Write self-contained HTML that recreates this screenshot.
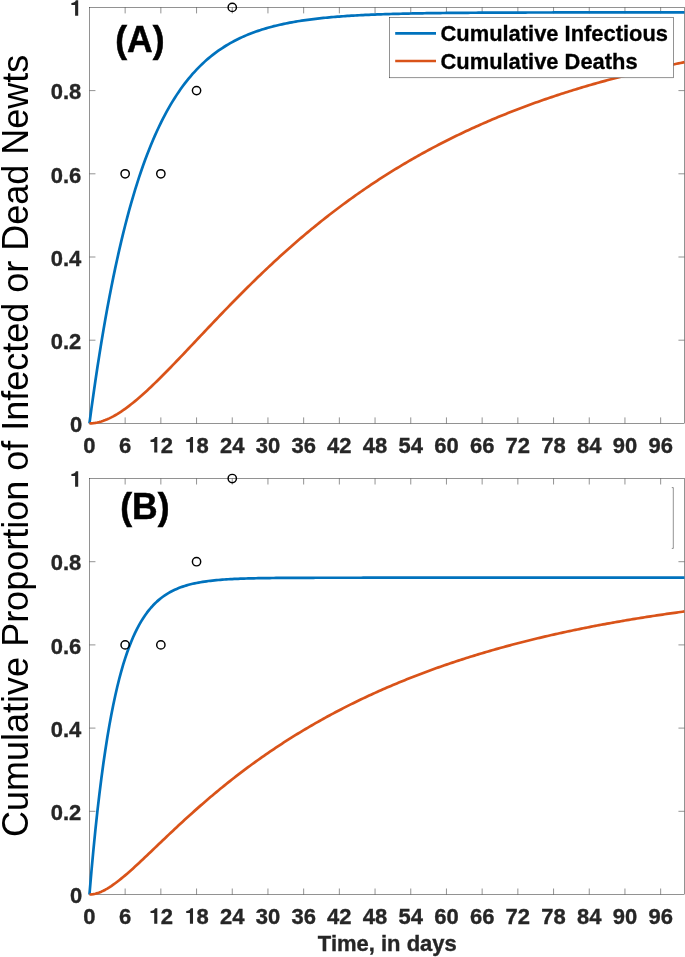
<!DOCTYPE html>
<html><head><meta charset="utf-8"><title>Figure</title>
<style>
html,body{margin:0;padding:0;background:#fff;}
body{width:685px;height:957px;overflow:hidden;}
svg{display:block;will-change:transform;}
text{font-family:"Liberation Sans",sans-serif;}
.tk{font-size:22px;font-weight:bold;fill:#262626;stroke:#262626;stroke-width:0.35px;}
.lg{font-size:21.9px;font-weight:bold;fill:#000;stroke:#000;stroke-width:0.3px;}
.pl{font-size:35.5px;font-weight:bold;fill:#000;stroke:#000;stroke-width:0.5px;}
.yl{font-size:36px;fill:#000;}
.ax{stroke:#262626;stroke-width:0.5;fill:none;}
</style></head><body>
<svg width="685" height="957" viewBox="0 0 685 957">
<rect width="685" height="957" fill="#fff"/>
<g>
<path class="ax" d="M125.15,423.40v-6M125.15,7.40v6M160.85,423.40v-6M160.85,7.40v6M196.55,423.40v-6M196.55,7.40v6M232.25,423.40v-6M232.25,7.40v6M267.95,423.40v-6M267.95,7.40v6M303.65,423.40v-6M303.65,7.40v6M339.35,423.40v-6M339.35,7.40v6M375.05,423.40v-6M375.05,7.40v6M410.75,423.40v-6M410.75,7.40v6M446.45,423.40v-6M446.45,7.40v6M482.15,423.40v-6M482.15,7.40v6M517.85,423.40v-6M517.85,7.40v6M553.55,423.40v-6M553.55,7.40v6M589.25,423.40v-6M589.25,7.40v6M624.95,423.40v-6M624.95,7.40v6M660.65,423.40v-6M660.65,7.40v6M89.45,340.20h6M684.45,340.20h-6M89.45,257.00h6M684.45,257.00h-6M89.45,173.80h6M684.45,173.80h-6M89.45,90.60h6M684.45,90.60h-6"/>
<rect class="ax" x="89.45" y="7.40" width="595.00" height="416.00"/>
<polyline points="89.45,423.40 91.43,408.67 93.42,394.47 95.40,380.77 97.38,367.57 99.37,354.84 101.35,342.56 103.33,330.73 105.32,319.32 107.30,308.32 109.28,297.71 111.27,287.49 113.25,277.63 115.23,268.12 117.22,258.95 119.20,250.12 121.18,241.60 123.17,233.38 125.15,225.46 127.13,217.82 129.12,210.46 131.10,203.36 133.08,196.52 135.07,189.92 137.05,183.55 139.03,177.42 141.02,171.50 143.00,165.80 144.98,160.30 146.97,155.00 148.95,149.89 150.93,144.96 152.92,140.21 154.90,135.63 156.88,131.21 158.87,126.95 160.85,122.85 162.83,118.89 164.82,115.07 166.80,111.39 168.78,107.84 170.77,104.42 172.75,101.12 174.73,97.94 176.72,94.88 178.70,91.92 180.68,89.07 182.67,86.32 184.65,83.67 186.63,81.12 188.62,78.65 190.60,76.28 192.58,73.99 194.57,71.78 196.55,69.65 198.53,67.60 200.52,65.62 202.50,63.71 204.48,61.87 206.47,60.10 208.45,58.39 210.43,56.74 212.42,55.15 214.40,53.62 216.38,52.14 218.37,50.72 220.35,49.34 222.33,48.02 224.32,46.74 226.30,45.51 228.28,44.32 230.27,43.18 232.25,42.08 234.23,41.01 236.22,39.99 238.20,39.00 240.18,38.04 242.17,37.12 244.15,36.24 246.13,35.38 248.12,34.56 250.10,33.76 252.08,33.00 254.07,32.26 256.05,31.55 258.03,30.86 260.02,30.20 262.00,29.56 263.98,28.95 265.97,28.35 267.95,27.78 269.93,27.23 271.92,26.70 273.90,26.18 275.88,25.69 277.87,25.21 279.85,24.75 281.83,24.31 283.82,23.88 285.80,23.47 287.78,23.07 289.77,22.69 291.75,22.32 293.73,21.97 295.72,21.62 297.70,21.29 299.68,20.97 301.67,20.67 303.65,20.37 305.63,20.08 307.62,19.81 309.60,19.54 311.58,19.29 313.57,19.04 315.55,18.80 317.53,18.57 319.52,18.35 321.50,18.14 323.48,17.93 325.47,17.73 327.45,17.54 329.43,17.36 331.42,17.18 333.40,17.01 335.38,16.84 337.37,16.68 339.35,16.53 341.33,16.38 343.32,16.24 345.30,16.10 347.28,15.97 349.27,15.84 351.25,15.71 353.23,15.60 355.22,15.48 357.20,15.37 359.18,15.26 361.17,15.16 363.15,15.06 365.13,14.97 367.12,14.87 369.10,14.78 371.08,14.70 373.07,14.62 375.05,14.54 377.03,14.46 379.02,14.38 381.00,14.31 382.98,14.24 384.97,14.18 386.95,14.11 388.93,14.05 390.92,13.99 392.90,13.94 394.88,13.88 396.87,13.83 398.85,13.78 400.83,13.73 402.82,13.68 404.80,13.63 406.78,13.59 408.77,13.54 410.75,13.50 412.73,13.46 414.72,13.43 416.70,13.39 418.68,13.35 420.67,13.32 422.65,13.28 424.63,13.25 426.62,13.22 428.60,13.19 430.58,13.16 432.57,13.14 434.55,13.11 436.53,13.08 438.52,13.06 440.50,13.03 442.48,13.01 444.47,12.99 446.45,12.97 448.43,12.95 450.42,12.93 452.40,12.91 454.38,12.89 456.37,12.87 458.35,12.85 460.33,12.84 462.32,12.82 464.30,12.81 466.28,12.79 468.27,12.78 470.25,12.76 472.23,12.75 474.22,12.74 476.20,12.73 478.18,12.71 480.17,12.70 482.15,12.69 484.13,12.68 486.12,12.67 488.10,12.66 490.08,12.65 492.07,12.64 494.05,12.63 496.03,12.62 498.02,12.62 500.00,12.61 501.98,12.60 503.97,12.59 505.95,12.58 507.93,12.58 509.92,12.57 511.90,12.56 513.88,12.56 515.87,12.55 517.85,12.55 519.83,12.54 521.82,12.54 523.80,12.53 525.78,12.53 527.77,12.52 529.75,12.52 531.73,12.51 533.72,12.51 535.70,12.50 537.68,12.50 539.67,12.50 541.65,12.49 543.63,12.49 545.62,12.48 547.60,12.48 549.58,12.48 551.57,12.48 553.55,12.47 555.53,12.47 557.52,12.47 559.50,12.46 561.48,12.46 563.47,12.46 565.45,12.46 567.43,12.45 569.42,12.45 571.40,12.45 573.38,12.45 575.37,12.45 577.35,12.44 579.33,12.44 581.32,12.44 583.30,12.44 585.28,12.44 587.27,12.44 589.25,12.43 591.23,12.43 593.22,12.43 595.20,12.43 597.18,12.43 599.17,12.43 601.15,12.43 603.13,12.42 605.12,12.42 607.10,12.42 609.08,12.42 611.07,12.42 613.05,12.42 615.03,12.42 617.02,12.42 619.00,12.42 620.98,12.42 622.97,12.41 624.95,12.41 626.93,12.41 628.92,12.41 630.90,12.41 632.88,12.41 634.87,12.41 636.85,12.41 638.83,12.41 640.82,12.41 642.80,12.41 644.78,12.41 646.77,12.41 648.75,12.41 650.73,12.41 652.72,12.40 654.70,12.40 656.68,12.40 658.67,12.40 660.65,12.40 662.63,12.40 664.62,12.40 666.60,12.40 668.58,12.40 670.57,12.40 672.55,12.40 674.53,12.40 676.52,12.40 678.50,12.40 680.48,12.40 682.47,12.40 684.45,12.40" fill="none" stroke="#0072BD" stroke-width="2.7" stroke-linejoin="round"/>
<polyline points="89.45,423.40 91.43,423.34 93.42,423.17 95.40,422.90 97.38,422.52 99.37,422.05 101.35,421.48 103.33,420.82 105.32,420.08 107.30,419.26 109.28,418.36 111.27,417.39 113.25,416.34 115.23,415.23 117.22,414.06 119.20,412.82 121.18,411.53 123.17,410.19 125.15,408.79 127.13,407.34 129.12,405.84 131.10,404.30 133.08,402.72 135.07,401.10 137.05,399.44 139.03,397.75 141.02,396.02 143.00,394.26 144.98,392.47 146.97,390.65 148.95,388.81 150.93,386.94 152.92,385.05 154.90,383.14 156.88,381.20 158.87,379.25 160.85,377.28 162.83,375.30 164.82,373.30 166.80,371.29 168.78,369.26 170.77,367.22 172.75,365.18 174.73,363.12 176.72,361.05 178.70,358.98 180.68,356.90 182.67,354.82 184.65,352.73 186.63,350.64 188.62,348.54 190.60,346.44 192.58,344.34 194.57,342.24 196.55,340.14 198.53,338.03 200.52,335.93 202.50,333.83 204.48,331.73 206.47,329.63 208.45,327.54 210.43,325.45 212.42,323.36 214.40,321.28 216.38,319.20 218.37,317.12 220.35,315.05 222.33,312.99 224.32,310.93 226.30,308.88 228.28,306.84 230.27,304.80 232.25,302.77 234.23,300.74 236.22,298.72 238.20,296.72 240.18,294.71 242.17,292.72 244.15,290.74 246.13,288.76 248.12,286.79 250.10,284.84 252.08,282.89 254.07,280.95 256.05,279.02 258.03,277.09 260.02,275.18 262.00,273.28 263.98,271.39 265.97,269.51 267.95,267.63 269.93,265.77 271.92,263.92 273.90,262.08 275.88,260.25 277.87,258.43 279.85,256.61 281.83,254.81 283.82,253.02 285.80,251.24 287.78,249.48 289.77,247.72 291.75,245.97 293.73,244.23 295.72,242.51 297.70,240.79 299.68,239.09 301.67,237.39 303.65,235.71 305.63,234.04 307.62,232.38 309.60,230.72 311.58,229.08 313.57,227.45 315.55,225.84 317.53,224.23 319.52,222.63 321.50,221.04 323.48,219.47 325.47,217.90 327.45,216.34 329.43,214.80 331.42,213.27 333.40,211.74 335.38,210.23 337.37,208.72 339.35,207.23 341.33,205.75 343.32,204.28 345.30,202.82 347.28,201.36 349.27,199.92 351.25,198.49 353.23,197.07 355.22,195.66 357.20,194.26 359.18,192.87 361.17,191.49 363.15,190.11 365.13,188.75 367.12,187.40 369.10,186.06 371.08,184.73 373.07,183.40 375.05,182.09 377.03,180.79 379.02,179.49 381.00,178.21 382.98,176.93 384.97,175.66 386.95,174.41 388.93,173.16 390.92,171.92 392.90,170.69 394.88,169.47 396.87,168.26 398.85,167.06 400.83,165.86 402.82,164.68 404.80,163.50 406.78,162.33 408.77,161.18 410.75,160.03 412.73,158.88 414.72,157.75 416.70,156.63 418.68,155.51 420.67,154.40 422.65,153.30 424.63,152.21 426.62,151.13 428.60,150.05 430.58,148.98 432.57,147.93 434.55,146.87 436.53,145.83 438.52,144.80 440.50,143.77 442.48,142.75 444.47,141.74 446.45,140.73 448.43,139.73 450.42,138.74 452.40,137.76 454.38,136.79 456.37,135.82 458.35,134.86 460.33,133.91 462.32,132.96 464.30,132.02 466.28,131.09 468.27,130.17 470.25,129.25 472.23,128.34 474.22,127.44 476.20,126.54 478.18,125.65 480.17,124.77 482.15,123.89 484.13,123.02 486.12,122.16 488.10,121.30 490.08,120.45 492.07,119.61 494.05,118.77 496.03,117.94 498.02,117.12 500.00,116.30 501.98,115.49 503.97,114.68 505.95,113.88 507.93,113.09 509.92,112.30 511.90,111.52 513.88,110.75 515.87,109.98 517.85,109.21 519.83,108.46 521.82,107.71 523.80,106.96 525.78,106.22 527.77,105.48 529.75,104.76 531.73,104.03 533.72,103.31 535.70,102.60 537.68,101.90 539.67,101.19 541.65,100.50 543.63,99.81 545.62,99.12 547.60,98.44 549.58,97.77 551.57,97.10 553.55,96.43 555.53,95.77 557.52,95.12 559.50,94.47 561.48,93.82 563.47,93.18 565.45,92.55 567.43,91.92 569.42,91.29 571.40,90.67 573.38,90.06 575.37,89.45 577.35,88.84 579.33,88.24 581.32,87.64 583.30,87.05 585.28,86.46 587.27,85.88 589.25,85.30 591.23,84.73 593.22,84.16 595.20,83.59 597.18,83.03 599.17,82.48 601.15,81.92 603.13,81.37 605.12,80.83 607.10,80.29 609.08,79.76 611.07,79.22 613.05,78.70 615.03,78.17 617.02,77.65 619.00,77.14 620.98,76.63 622.97,76.12 624.95,75.62 626.93,75.12 628.92,74.62 630.90,74.13 632.88,73.64 634.87,73.16 636.85,72.67 638.83,72.20 640.82,71.72 642.80,71.25 644.78,70.79 646.77,70.33 648.75,69.87 650.73,69.41 652.72,68.96 654.70,68.51 656.68,68.07 658.67,67.62 660.65,67.19 662.63,66.75 664.62,66.32 666.60,65.89 668.58,65.47 670.57,65.04 672.55,64.63 674.53,64.21 676.52,63.80 678.50,63.39 680.48,62.99 682.47,62.58 684.45,62.18" fill="none" stroke="#D95319" stroke-width="2.7" stroke-linejoin="round"/>
<circle cx="125.15" cy="173.80" r="4.15" fill="none" stroke="#000" stroke-width="1.45"/>
<circle cx="160.85" cy="173.80" r="4.15" fill="none" stroke="#000" stroke-width="1.45"/>
<circle cx="196.55" cy="90.60" r="4.15" fill="none" stroke="#000" stroke-width="1.45"/>
<circle cx="232.25" cy="7.40" r="4.15" fill="none" stroke="#000" stroke-width="1.45"/>
<text class="tk" transform="translate(89.45,452.60) scale(1,1.025)" text-anchor="middle">0</text>
<text class="tk" transform="translate(125.15,452.60) scale(1,1.025)" text-anchor="middle">6</text>
<path d="M9.3,-15.5V0H6.2V-10.7H2.5V-12.8C4.6,-12.9 6.4,-13.7 7,-15.5Z" transform="translate(148.02,452.60)" fill="#262626"/>
<text class="tk" transform="translate(160.85,452.60) scale(1,1.025)" text-anchor="start">2</text>
<path d="M9.3,-15.5V0H6.2V-10.7H2.5V-12.8C4.6,-12.9 6.4,-13.7 7,-15.5Z" transform="translate(183.72,452.60)" fill="#262626"/>
<text class="tk" transform="translate(196.55,452.60) scale(1,1.025)" text-anchor="start">8</text>
<text class="tk" transform="translate(232.25,452.60) scale(1,1.025)" text-anchor="middle">24</text>
<text class="tk" transform="translate(267.95,452.60) scale(1,1.025)" text-anchor="middle">30</text>
<text class="tk" transform="translate(303.65,452.60) scale(1,1.025)" text-anchor="middle">36</text>
<text class="tk" transform="translate(339.35,452.60) scale(1,1.025)" text-anchor="middle">42</text>
<text class="tk" transform="translate(375.05,452.60) scale(1,1.025)" text-anchor="middle">48</text>
<text class="tk" transform="translate(410.75,452.60) scale(1,1.025)" text-anchor="middle">54</text>
<text class="tk" transform="translate(446.45,452.60) scale(1,1.025)" text-anchor="middle">60</text>
<text class="tk" transform="translate(482.15,452.60) scale(1,1.025)" text-anchor="middle">66</text>
<text class="tk" transform="translate(517.85,452.60) scale(1,1.025)" text-anchor="middle">72</text>
<text class="tk" transform="translate(553.55,452.60) scale(1,1.025)" text-anchor="middle">78</text>
<text class="tk" transform="translate(589.25,452.60) scale(1,1.025)" text-anchor="middle">84</text>
<text class="tk" transform="translate(624.95,452.60) scale(1,1.025)" text-anchor="middle">90</text>
<text class="tk" transform="translate(660.65,452.60) scale(1,1.025)" text-anchor="middle">96</text>
<text class="tk" transform="translate(82.35,432.15) scale(1,1.025)" text-anchor="end">0</text>
<text class="tk" transform="translate(81.35,348.95) scale(1,1.025)" text-anchor="end">0.2</text>
<text class="tk" transform="translate(81.35,265.75) scale(1,1.025)" text-anchor="end">0.4</text>
<text class="tk" transform="translate(81.35,182.55) scale(1,1.025)" text-anchor="end">0.6</text>
<text class="tk" transform="translate(81.35,99.35) scale(1,1.025)" text-anchor="end">0.8</text>
<path d="M9.3,-15.5V0H6.2V-10.7H2.5V-12.8C4.6,-12.9 6.4,-13.7 7,-15.5Z" transform="translate(68.90,15.70)" fill="#262626"/>
<text class="pl" transform="translate(115.30,52.10) scale(1,1.02)" text-anchor="start">(A)</text>
</g>
<g>
<path class="ax" d="M125.15,894.50v-6M125.15,478.50v6M160.85,894.50v-6M160.85,478.50v6M196.55,894.50v-6M196.55,478.50v6M232.25,894.50v-6M232.25,478.50v6M267.95,894.50v-6M267.95,478.50v6M303.65,894.50v-6M303.65,478.50v6M339.35,894.50v-6M339.35,478.50v6M375.05,894.50v-6M375.05,478.50v6M410.75,894.50v-6M410.75,478.50v6M446.45,894.50v-6M446.45,478.50v6M482.15,894.50v-6M482.15,478.50v6M517.85,894.50v-6M517.85,478.50v6M553.55,894.50v-6M553.55,478.50v6M589.25,894.50v-6M589.25,478.50v6M624.95,894.50v-6M624.95,478.50v6M660.65,894.50v-6M660.65,478.50v6M89.45,811.30h6M684.45,811.30h-6M89.45,728.10h6M684.45,728.10h-6M89.45,644.90h6M684.45,644.90h-6M89.45,561.70h6M684.45,561.70h-6"/>
<rect class="ax" x="89.45" y="478.50" width="595.00" height="416.00"/>
<polyline points="89.45,894.50 91.43,871.32 93.42,849.83 95.40,829.92 97.38,811.46 99.37,794.35 101.35,778.50 103.33,763.80 105.32,750.19 107.30,737.56 109.28,725.87 111.27,715.02 113.25,704.97 115.23,695.66 117.22,687.03 119.20,679.03 121.18,671.62 123.17,664.74 125.15,658.37 127.13,652.47 129.12,647.00 131.10,641.93 133.08,637.23 135.07,632.88 137.05,628.84 139.03,625.10 141.02,621.63 143.00,618.42 144.98,615.44 146.97,612.68 148.95,610.12 150.93,607.75 152.92,605.55 154.90,603.51 156.88,601.62 158.87,599.87 160.85,598.25 162.83,596.75 164.82,595.36 166.80,594.07 168.78,592.87 170.77,591.76 172.75,590.73 174.73,589.78 176.72,588.90 178.70,588.08 180.68,587.32 182.67,586.62 184.65,585.97 186.63,585.36 188.62,584.80 190.60,584.28 192.58,583.80 194.57,583.36 196.55,582.95 198.53,582.56 200.52,582.21 202.50,581.88 204.48,581.57 206.47,581.29 208.45,581.03 210.43,580.79 212.42,580.56 214.40,580.35 216.38,580.16 218.37,579.98 220.35,579.82 222.33,579.66 224.32,579.52 226.30,579.39 228.28,579.27 230.27,579.15 232.25,579.05 234.23,578.95 236.22,578.86 238.20,578.78 240.18,578.70 242.17,578.63 244.15,578.56 246.13,578.50 248.12,578.44 250.10,578.39 252.08,578.34 254.07,578.29 256.05,578.25 258.03,578.21 260.02,578.18 262.00,578.14 263.98,578.11 265.97,578.08 267.95,578.05 269.93,578.03 271.92,578.01 273.90,577.99 275.88,577.97 277.87,577.95 279.85,577.93 281.83,577.92 283.82,577.90 285.80,577.89 287.78,577.87 289.77,577.86 291.75,577.85 293.73,577.84 295.72,577.83 297.70,577.82 299.68,577.82 301.67,577.81 303.65,577.80 305.63,577.80 307.62,577.79 309.60,577.78 311.58,577.78 313.57,577.78 315.55,577.77 317.53,577.77 319.52,577.76 321.50,577.76 323.48,577.76 325.47,577.75 327.45,577.75 329.43,577.75 331.42,577.75 333.40,577.74 335.38,577.74 337.37,577.74 339.35,577.74 341.33,577.74 343.32,577.73 345.30,577.73 347.28,577.73 349.27,577.73 351.25,577.73 353.23,577.73 355.22,577.73 357.20,577.73 359.18,577.73 361.17,577.73 363.15,577.72 365.13,577.72 367.12,577.72 369.10,577.72 371.08,577.72 373.07,577.72 375.05,577.72 377.03,577.72 379.02,577.72 381.00,577.72 382.98,577.72 384.97,577.72 386.95,577.72 388.93,577.72 390.92,577.72 392.90,577.72 394.88,577.72 396.87,577.72 398.85,577.72 400.83,577.72 402.82,577.72 404.80,577.72 406.78,577.72 408.77,577.72 410.75,577.72 412.73,577.72 414.72,577.72 416.70,577.72 418.68,577.72 420.67,577.72 422.65,577.72 424.63,577.72 426.62,577.72 428.60,577.72 430.58,577.72 432.57,577.72 434.55,577.72 436.53,577.72 438.52,577.72 440.50,577.72 442.48,577.72 444.47,577.72 446.45,577.72 448.43,577.72 450.42,577.72 452.40,577.72 454.38,577.72 456.37,577.72 458.35,577.72 460.33,577.72 462.32,577.72 464.30,577.72 466.28,577.72 468.27,577.72 470.25,577.72 472.23,577.72 474.22,577.72 476.20,577.72 478.18,577.72 480.17,577.72 482.15,577.72 484.13,577.72 486.12,577.72 488.10,577.72 490.08,577.72 492.07,577.72 494.05,577.72 496.03,577.72 498.02,577.72 500.00,577.72 501.98,577.72 503.97,577.72 505.95,577.72 507.93,577.72 509.92,577.72 511.90,577.72 513.88,577.72 515.87,577.72 517.85,577.72 519.83,577.72 521.82,577.72 523.80,577.72 525.78,577.72 527.77,577.72 529.75,577.72 531.73,577.72 533.72,577.72 535.70,577.72 537.68,577.72 539.67,577.72 541.65,577.72 543.63,577.72 545.62,577.72 547.60,577.72 549.58,577.72 551.57,577.72 553.55,577.72 555.53,577.72 557.52,577.72 559.50,577.72 561.48,577.72 563.47,577.72 565.45,577.72 567.43,577.72 569.42,577.72 571.40,577.72 573.38,577.72 575.37,577.72 577.35,577.72 579.33,577.72 581.32,577.72 583.30,577.72 585.28,577.72 587.27,577.72 589.25,577.72 591.23,577.72 593.22,577.72 595.20,577.72 597.18,577.72 599.17,577.72 601.15,577.72 603.13,577.72 605.12,577.72 607.10,577.72 609.08,577.72 611.07,577.72 613.05,577.72 615.03,577.72 617.02,577.72 619.00,577.72 620.98,577.72 622.97,577.72 624.95,577.72 626.93,577.72 628.92,577.72 630.90,577.72 632.88,577.72 634.87,577.72 636.85,577.72 638.83,577.72 640.82,577.72 642.80,577.72 644.78,577.72 646.77,577.72 648.75,577.72 650.73,577.72 652.72,577.72 654.70,577.72 656.68,577.72 658.67,577.72 660.65,577.72 662.63,577.72 664.62,577.72 666.60,577.72 668.58,577.72 670.57,577.72 672.55,577.72 674.53,577.72 676.52,577.72 678.50,577.72 680.48,577.72 682.47,577.72 684.45,577.72" fill="none" stroke="#0072BD" stroke-width="2.7" stroke-linejoin="round"/>
<polyline points="89.45,894.50 91.43,894.41 93.42,894.15 95.40,893.73 97.38,893.16 99.37,892.46 101.35,891.64 103.33,890.71 105.32,889.68 107.30,888.55 109.28,887.33 111.27,886.04 113.25,884.68 115.23,883.26 117.22,881.77 119.20,880.24 121.18,878.65 123.17,877.02 125.15,875.36 127.13,873.66 129.12,871.93 131.10,870.17 133.08,868.38 135.07,866.58 137.05,864.76 139.03,862.92 141.02,861.07 143.00,859.20 144.98,857.33 146.97,855.45 148.95,853.56 150.93,851.67 152.92,849.77 154.90,847.88 156.88,845.98 158.87,844.08 160.85,842.19 162.83,840.29 164.82,838.41 166.80,836.52 168.78,834.64 170.77,832.77 172.75,830.90 174.73,829.04 176.72,827.18 178.70,825.34 180.68,823.50 182.67,821.67 184.65,819.85 186.63,818.03 188.62,816.23 190.60,814.44 192.58,812.66 194.57,810.88 196.55,809.12 198.53,807.37 200.52,805.63 202.50,803.90 204.48,802.18 206.47,800.47 208.45,798.77 210.43,797.09 212.42,795.41 214.40,793.75 216.38,792.10 218.37,790.45 220.35,788.82 222.33,787.21 224.32,785.60 226.30,784.00 228.28,782.42 230.27,780.84 232.25,779.28 234.23,777.73 236.22,776.19 238.20,774.66 240.18,773.15 242.17,771.64 244.15,770.14 246.13,768.66 248.12,767.19 250.10,765.72 252.08,764.27 254.07,762.83 256.05,761.40 258.03,759.98 260.02,758.58 262.00,757.18 263.98,755.79 265.97,754.41 267.95,753.05 269.93,751.69 271.92,750.35 273.90,749.01 275.88,747.68 277.87,746.37 279.85,745.06 281.83,743.77 283.82,742.48 285.80,741.21 287.78,739.94 289.77,738.68 291.75,737.44 293.73,736.20 295.72,734.97 297.70,733.75 299.68,732.54 301.67,731.34 303.65,730.15 305.63,728.97 307.62,727.80 309.60,726.63 311.58,725.48 313.57,724.33 315.55,723.20 317.53,722.07 319.52,720.95 321.50,719.84 323.48,718.74 325.47,717.64 327.45,716.56 329.43,715.48 331.42,714.41 333.40,713.35 335.38,712.30 337.37,711.25 339.35,710.21 341.33,709.19 343.32,708.17 345.30,707.15 347.28,706.15 349.27,705.15 351.25,704.16 353.23,703.18 355.22,702.20 357.20,701.24 359.18,700.28 361.17,699.33 363.15,698.38 365.13,697.44 367.12,696.51 369.10,695.59 371.08,694.67 373.07,693.77 375.05,692.86 377.03,691.97 379.02,691.08 381.00,690.20 382.98,689.32 384.97,688.46 386.95,687.60 388.93,686.74 390.92,685.89 392.90,685.05 394.88,684.22 396.87,683.39 398.85,682.57 400.83,681.75 402.82,680.94 404.80,680.14 406.78,679.34 408.77,678.55 410.75,677.77 412.73,676.99 414.72,676.21 416.70,675.45 418.68,674.69 420.67,673.93 422.65,673.18 424.63,672.44 426.62,671.70 428.60,670.97 430.58,670.24 432.57,669.52 434.55,668.81 436.53,668.10 438.52,667.39 440.50,666.69 442.48,666.00 444.47,665.31 446.45,664.63 448.43,663.95 450.42,663.28 452.40,662.61 454.38,661.95 456.37,661.29 458.35,660.64 460.33,659.99 462.32,659.35 464.30,658.72 466.28,658.08 468.27,657.46 470.25,656.83 472.23,656.22 474.22,655.60 476.20,655.00 478.18,654.39 480.17,653.79 482.15,653.20 484.13,652.61 486.12,652.03 488.10,651.45 490.08,650.87 492.07,650.30 494.05,649.73 496.03,649.17 498.02,648.61 500.00,648.06 501.98,647.51 503.97,646.96 505.95,646.42 507.93,645.88 509.92,645.35 511.90,644.82 513.88,644.29 515.87,643.77 517.85,643.26 519.83,642.74 521.82,642.23 523.80,641.73 525.78,641.23 527.77,640.73 529.75,640.24 531.73,639.75 533.72,639.26 535.70,638.78 537.68,638.30 539.67,637.83 541.65,637.36 543.63,636.89 545.62,636.42 547.60,635.96 549.58,635.51 551.57,635.05 553.55,634.60 555.53,634.16 557.52,633.72 559.50,633.28 561.48,632.84 563.47,632.41 565.45,631.98 567.43,631.55 569.42,631.13 571.40,630.71 573.38,630.29 575.37,629.88 577.35,629.47 579.33,629.06 581.32,628.66 583.30,628.26 585.28,627.86 587.27,627.47 589.25,627.08 591.23,626.69 593.22,626.30 595.20,625.92 597.18,625.54 599.17,625.17 601.15,624.79 603.13,624.42 605.12,624.05 607.10,623.69 609.08,623.33 611.07,622.97 613.05,622.61 615.03,622.26 617.02,621.91 619.00,621.56 620.98,621.21 622.97,620.87 624.95,620.53 626.93,620.19 628.92,619.85 630.90,619.52 632.88,619.19 634.87,618.86 636.85,618.54 638.83,618.22 640.82,617.90 642.80,617.58 644.78,617.26 646.77,616.95 648.75,616.64 650.73,616.33 652.72,616.03 654.70,615.72 656.68,615.42 658.67,615.13 660.65,614.83 662.63,614.54 664.62,614.24 666.60,613.95 668.58,613.67 670.57,613.38 672.55,613.10 674.53,612.82 676.52,612.54 678.50,612.26 680.48,611.99 682.47,611.72 684.45,611.45" fill="none" stroke="#D95319" stroke-width="2.7" stroke-linejoin="round"/>
<circle cx="125.15" cy="644.90" r="4.15" fill="none" stroke="#000" stroke-width="1.45"/>
<circle cx="160.85" cy="644.90" r="4.15" fill="none" stroke="#000" stroke-width="1.45"/>
<circle cx="196.55" cy="561.70" r="4.15" fill="none" stroke="#000" stroke-width="1.45"/>
<circle cx="232.25" cy="478.50" r="4.15" fill="none" stroke="#000" stroke-width="1.45"/>
<text class="tk" transform="translate(89.45,923.70) scale(1,1.025)" text-anchor="middle">0</text>
<text class="tk" transform="translate(125.15,923.70) scale(1,1.025)" text-anchor="middle">6</text>
<path d="M9.3,-15.5V0H6.2V-10.7H2.5V-12.8C4.6,-12.9 6.4,-13.7 7,-15.5Z" transform="translate(148.02,923.70)" fill="#262626"/>
<text class="tk" transform="translate(160.85,923.70) scale(1,1.025)" text-anchor="start">2</text>
<path d="M9.3,-15.5V0H6.2V-10.7H2.5V-12.8C4.6,-12.9 6.4,-13.7 7,-15.5Z" transform="translate(183.72,923.70)" fill="#262626"/>
<text class="tk" transform="translate(196.55,923.70) scale(1,1.025)" text-anchor="start">8</text>
<text class="tk" transform="translate(232.25,923.70) scale(1,1.025)" text-anchor="middle">24</text>
<text class="tk" transform="translate(267.95,923.70) scale(1,1.025)" text-anchor="middle">30</text>
<text class="tk" transform="translate(303.65,923.70) scale(1,1.025)" text-anchor="middle">36</text>
<text class="tk" transform="translate(339.35,923.70) scale(1,1.025)" text-anchor="middle">42</text>
<text class="tk" transform="translate(375.05,923.70) scale(1,1.025)" text-anchor="middle">48</text>
<text class="tk" transform="translate(410.75,923.70) scale(1,1.025)" text-anchor="middle">54</text>
<text class="tk" transform="translate(446.45,923.70) scale(1,1.025)" text-anchor="middle">60</text>
<text class="tk" transform="translate(482.15,923.70) scale(1,1.025)" text-anchor="middle">66</text>
<text class="tk" transform="translate(517.85,923.70) scale(1,1.025)" text-anchor="middle">72</text>
<text class="tk" transform="translate(553.55,923.70) scale(1,1.025)" text-anchor="middle">78</text>
<text class="tk" transform="translate(589.25,923.70) scale(1,1.025)" text-anchor="middle">84</text>
<text class="tk" transform="translate(624.95,923.70) scale(1,1.025)" text-anchor="middle">90</text>
<text class="tk" transform="translate(660.65,923.70) scale(1,1.025)" text-anchor="middle">96</text>
<text class="tk" transform="translate(82.35,903.25) scale(1,1.025)" text-anchor="end">0</text>
<text class="tk" transform="translate(81.35,820.05) scale(1,1.025)" text-anchor="end">0.2</text>
<text class="tk" transform="translate(81.35,736.85) scale(1,1.025)" text-anchor="end">0.4</text>
<text class="tk" transform="translate(81.35,653.65) scale(1,1.025)" text-anchor="end">0.6</text>
<text class="tk" transform="translate(81.35,570.45) scale(1,1.025)" text-anchor="end">0.8</text>
<path d="M9.3,-15.5V0H6.2V-10.7H2.5V-12.8C4.6,-12.9 6.4,-13.7 7,-15.5Z" transform="translate(68.90,486.80)" fill="#262626"/>
<text class="pl" transform="translate(120.20,518.50) scale(1,1.02)" text-anchor="start">(B)</text>
</g>
<rect x="389.3" y="17.5" width="284.3" height="60.3" fill="#fff" stroke="#262626" stroke-width="0.5"/>
<path d="M395.2,33.4H436" stroke="#0072BD" stroke-width="2.7"/>
<path d="M395.2,61H436" stroke="#D95319" stroke-width="2.7"/>
<text class="lg" transform="translate(440.50,41.20) scale(1,1.0)" text-anchor="start">Cumulative Infectious</text>
<text class="lg" transform="translate(440.50,68.80) scale(1,1.0)" text-anchor="start">Cumulative Deaths</text>
<path class="ax" d="M671.8,487.6H673.3V548.4H671.8"/>
<text class="tk" transform="translate(387.30,951.40) scale(1,1.025)" text-anchor="middle">Time, in days</text>
<text class="yl" transform="translate(28.20,445.80) rotate(-90) scale(1,1.04)" text-anchor="middle">Cumulative Proportion of Infected or Dead Newts</text>
</svg></body></html>
